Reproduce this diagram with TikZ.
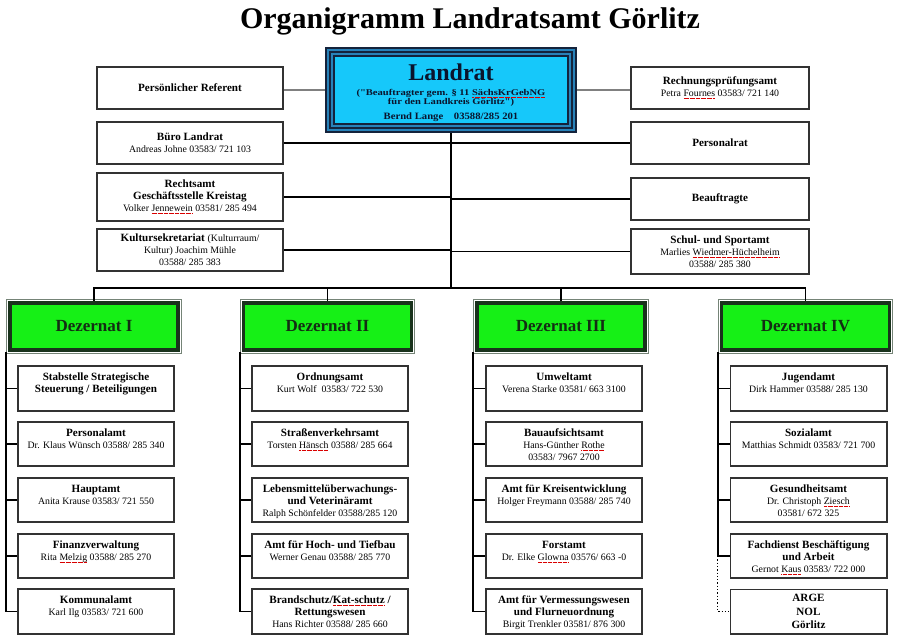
\documentclass[tikz,border=0pt]{standalone}
\usepackage{fontspec}
\setmainfont{Liberation Serif}
\newfontfamily\widefont{Liberation Serif}[FakeStretch=1.2]
\newfontfamily\wideb{Liberation Serif}[FakeStretch=1.1]
\newsavebox\sqbox
\newcommand\sq[1]{\sbox\sqbox{#1}\rlap{\textcolor{red!85!black}{\hbox to \wd\sqbox{\xleaders\hbox{\rule[-2pt]{0.6pt}{0.5pt}\hskip0.6pt}\hfill}}}\usebox\sqbox}
\definecolor{landcyan}{RGB}{22,200,250}
\definecolor{landband}{RGB}{40,130,185}
\definecolor{landline}{RGB}{20,35,60}
\definecolor{landtext}{RGB}{10,20,45}
\definecolor{dezgreen}{RGB}{22,240,22}
\definecolor{dezdark}{RGB}{25,50,28}
\definecolor{deztext}{RGB}{20,45,20}
\definecolor{boxc}{RGB}{50,50,50}
\newcommand\hd{\fontsize{11.1}{12}\selectfont\bfseries}
\newcommand\nm{\fontsize{9.8}{12}\selectfont\mdseries}
\newcommand\nms{\fontsize{9.8}{11}\selectfont\mdseries}
\newcommand\subtxt[1]{\parbox[c][39.5pt][t]{154pt}{\centering\rule{0pt}{12pt}#1}}
\begin{document}
\begin{tikzpicture}[x=1pt,y=-1pt,
  box/.style={draw=boxc,line width=1.8pt,fill=white,align=center,inner sep=0pt,font=\hd},
  staff/.style={box,minimum width=186.2pt,minimum height=42.2pt},
  rstaff/.style={box,minimum width=178.2pt,minimum height=42.2pt},
  sub/.style={box,minimum width=156.2pt,minimum height=44.2pt,inner xsep=1pt,inner ysep=2.5pt},
  conn/.style={draw=black,line width=1.8pt},
  gconn/.style={draw=gray,line width=1.5pt},
  dotconn/.style={draw=black,line width=1.3pt,dotted},
  dez/.style={draw=dezdark,fill=dezgreen,line width=3.8pt,minimum width=168pt,minimum height=47pt,
     font=\fontsize{17}{20}\selectfont\bfseries,text=deztext},
  dezframe/.style={draw=dezdark!60,line width=1pt},
  landline/.style={draw=landline,line width=1.8pt}
]
\fill[white] (0,0) rectangle (900,640);
\useasboundingbox (0,0) rectangle (900,640);

% title
\node[anchor=base,font=\fontsize{30}{34}\selectfont\bfseries] (title) at (470,28) {Organigramm Landratsamt Görlitz};

% Landrat
\node[landline,fill=landband,minimum width=250.2pt,minimum height=84.2pt] (land) at (451,90) {};
\draw[landline,fill=landband] ([shift={(4.8,4.8)}]land.north west) rectangle ([shift={(-4.8,-4.8)}]land.south east);
\draw[landline,fill=landcyan] ([shift={(8.8,8.8)}]land.north west) rectangle ([shift={(-8.8,-8.8)}]land.south east);
\node[anchor=base,font=\fontsize{24}{26}\selectfont\bfseries,text=landtext] (lt1) at (451,80) {Landrat};
\node[anchor=base,font=\widefont\fontsize{8.8}{9}\selectfont\bfseries,text=landtext] (lt2) at (451,95.5) {("Beauftragter gem. § 11 \sq{SächsKrGebNG}};
\node[anchor=base,font=\widefont\fontsize{8.8}{9}\selectfont\bfseries,text=landtext] (lt3) at (451,104.5) {für den Landkreis Görlitz")};
\node[anchor=base,font=\wideb\fontsize{9.7}{10}\selectfont\bfseries,text=landtext] (lt4) at (451,119) {Bernd Lange\hspace{1.1em}03588/285 201};

% left staff boxes
\node[staff] (pref) at (190,88) {Persönlicher Referent};
\node[staff] (buero) at (190,143) {Büro Landrat\\{\nm Andreas Johne 03583/ 721 103}};
\node[staff,minimum height=48.2pt] (recht) at (190,197) {Rechtsamt\\Geschäftsstelle Kreistag\\{\nm Volker \sq{Jennewein} 03581/ 285 494}};
\node[staff] (kultur) at (190,250) {\fontsize{11.1}{11}\selectfont Kultursekretariat {\nm(Kulturraum/}\\{\nms Kultur) Joachim Mühle}\\{\nms 03588/ 285 383}};

% right staff boxes
\node[rstaff] (rpa) at (720,88) {Rechnungsprüfungsamt\\{\nm Petra \sq{Fournes} 03583/ 721 140}};
\node[rstaff] (prat) at (720,143) {Personalrat};
\node[rstaff] (beauf) at (720,199) {Beauftragte};
\node[rstaff,minimum height=45.2pt] (schul) at (720,251.5) {Schul- und Sportamt\\{\nms Marlies \sq{Wiedmer-Hüchelheim}}\\{\nms 03588/ 285 380}};

% staff connectors
\draw[gconn] (pref.east |- land.west) -- (land.west);
\draw[gconn] (land.east) -- (land.east -| rpa.west);
\draw[conn] (land.south) -- (land.south |- 0,288) coordinate (trunk);
\draw[conn] (buero.east) -- (buero.east -| trunk);
\draw[conn] (recht.east) -- (recht.east -| trunk);
\draw[conn] (kultur.east) -- (kultur.east -| trunk);
\draw[conn] (prat.west) -- (prat.west -| trunk);
\draw[conn] (beauf.west) -- (beauf.west -| trunk);
\draw[conn] (schul.west) -- (schul.west -| trunk);

% Dezernate
\node[dez] (d1) at (94,326.5) {Dezernat I};
\node[dez] (d2) at (327.5,326.5) {Dezernat II};
\node[dez] (d3) at (561,326.5) {Dezernat III};
\node[dez] (d4) at (805.5,326.5) {Dezernat IV};
\foreach \d in {d1,d2,d3,d4}{
  \draw[dezframe] ([shift={(-1.4,-1.4)}]\d.north west) rectangle ([shift={(1.4,1.4)}]\d.south east);
}
\draw[conn] (d1.north) -- (d1.north |- trunk) -- (d4.north |- trunk) -- (d4.north);
\draw[conn] (d2.north) -- (d2.north |- trunk);
\draw[conn] (d3.north) -- (d3.north |- trunk);

% column coordinates
\coordinate (v1) at ([xshift=-2pt]d1.south west);
\coordinate (v2) at ([xshift=-2pt]d2.south west);
\coordinate (v3) at ([xshift=-2pt]d3.south west);
\coordinate (v4) at ([xshift=-2pt]d4.south west);

% Dezernat I
\node[sub] (s11) at (96,388.5) {\subtxt{Stabstelle Strategische\\Steuerung / Beteiligungen}};
\node[sub] (s12) at (96,444) {\subtxt{Personalamt\\{\nm Dr. Klaus Wünsch 03588/ 285 340}}};
\node[sub] (s13) at (96,500) {\subtxt{Hauptamt\\{\nm Anita Krause 03583/ 721 550}}};
\node[sub] (s14) at (96,556) {\subtxt{Finanzverwaltung\\{\nm Rita \sq{Melzig} 03588/ 285 270}}};
\node[sub] (s15) at (96,611.5) {\subtxt{Kommunalamt\\{\nm Karl Ilg 03583/ 721 600}}};

% Dezernat II
\node[sub] (s21) at (330,388.5) {\subtxt{Ordnungsamt\\{\nm Kurt Wolf\ \ 03583/ 722 530}}};
\node[sub] (s22) at (330,444) {\subtxt{Straßenverkehrsamt\\{\nm Torsten \sq{Hänsch} 03588/ 285 664}}};
\node[sub] (s23) at (330,500) {\subtxt{Lebensmittelüberwachungs-\\und Veterinäramt\\{\nm Ralph Schönfelder 03588/285 120}}};
\node[sub] (s24) at (330,556) {\subtxt{Amt für Hoch- und Tiefbau\\{\nm Werner Genau 03588/ 285 770}}};
\node[sub] (s25) at (330,611.5) {\subtxt{Brandschutz/\sq{Kat-schutz} /\\Rettungswesen\\{\nm Hans Richter 03588/ 285 660}}};

% Dezernat III
\node[sub] (s31) at (564,388.5) {\subtxt{Umweltamt\\{\nm Verena Starke 03581/ 663 3100}}};
\node[sub] (s32) at (564,444) {\subtxt{Bauaufsichtsamt\\{\nm Hans-Günther \sq{Rothe}}\\{\nm 03583/ 7967 2700}}};
\node[sub] (s33) at (564,500) {\subtxt{Amt für Kreisentwicklung\\{\nm Holger Freymann 03588/ 285 740}}};
\node[sub] (s34) at (564,556) {\subtxt{Forstamt\\{\nm Dr. Elke \sq{Glowna} 03576/ 663 -0}}};
\node[sub] (s35) at (564,611.5) {\subtxt{Amt für Vermessungswesen\\und Flurneuordnung\\{\nm Birgit Trenkler 03581/ 876 300}}};

% Dezernat IV
\node[sub] (s41) at (808.5,388.5) {\subtxt{Jugendamt\\{\nm Dirk Hammer 03588/ 285 130}}};
\node[sub] (s42) at (808.5,444) {\subtxt{Sozialamt\\{\nm Matthias Schmidt 03583/ 721 700}}};
\node[sub] (s43) at (808.5,500) {\subtxt{Gesundheitsamt\\{\nm Dr. Christoph \sq{Ziesch}}\\{\nm 03581/ 672 325}}};
\node[sub] (s44) at (808.5,556) {\subtxt{Fachdienst Beschäftigung\\und Arbeit\\{\nm Gernot \sq{Kaus} 03583/ 722 000}}};
\node[sub,font=\fontsize{11.1}{13.5}\selectfont\bfseries] (s45) at (808.5,611.5) {ARGE\\NOL\\Görlitz};

% column connectors
\draw[conn] (v1) |- (s15.west);
\draw[conn] (v2) |- (s25.west);
\draw[conn] (v3) |- (s35.west);
\draw[conn] (v4) |- (s44.west);
\draw[dotconn] (s44.west -| v4) |- (s45.west);
\foreach \c in {1,2,3}{
  \foreach \r in {1,2,3,4}{
    \draw[conn] (s\c\r.west) -- (s\c\r.west -| v\c);
  }
}
\foreach \r in {1,2,3}{
  \draw[conn] (s4\r.west) -- (s4\r.west -| v4);
}
\end{tikzpicture}
\end{document}
